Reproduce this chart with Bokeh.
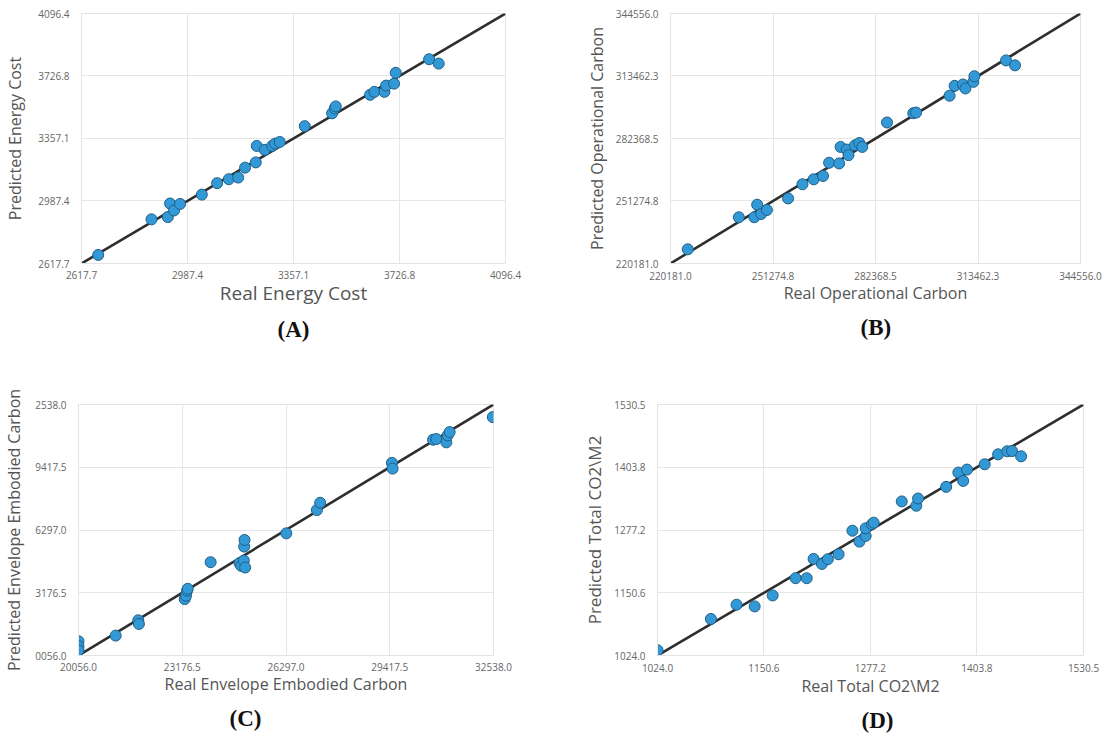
from bokeh.plotting import figure
from bokeh.models import Range1d, FixedTicker, Title, CustomJSTickFormatter
from bokeh.layouts import column, row
from bokeh.embed import file_html
from bokeh.resources import INLINE

# ---------------- data ----------------
# (A) Energy cost
a_ticks = [2617.7, 2987.4, 3357.1, 3726.8, 4096.4]
a_real = [2675.9, 2861.8, 2918.7, 2926.6, 2940.6, 2961.5, 3037.2, 3090.8, 3131.5, 3164.2,
          3188.1, 3225.4, 3228.9, 3256.8, 3282.5, 3293.0, 3309.1, 3396.3, 3491.7, 3500.9,
          3504.4, 3624.2, 3639.2, 3674.0, 3680.0, 3707.8, 3713.7, 3830.0, 3863.5]
a_pred = [2668.5, 2878.9, 2892.4, 2972.5, 2931.6, 2970.1, 3025.1, 3092.9, 3116.3, 3126.2,
          3184.7, 3215.7, 3313.2, 3289.9, 3313.2, 3326.7, 3336.6, 3430.2, 3506.1, 3535.4,
          3547.0, 3615.4, 3633.0, 3633.0, 3669.8, 3681.5, 3745.8, 3825.9, 3800.1]

# (B) Operational carbon
b_ticks = [220181.0, 251274.8, 282368.5, 313462.3, 344556.0]
b_real = [225418, 240910, 245601, 246474, 247674, 249420, 255857, 260221, 263603, 266440,
          268294, 271349, 271786, 273640, 274186, 276150, 277459, 278332, 285860, 293825,
          294697, 304843, 306371, 308880, 309644, 312044, 312371, 321972, 324700]
b_pred = [227246, 243183, 243183, 249427, 244826, 246798, 252548, 259613, 262078, 263721,
          270293, 269964, 278179, 276865, 274072, 279001, 280151, 278179, 290339, 294939,
          295268, 303646, 308575, 309233, 307261, 310547, 313340, 321226, 318761]

# (C) Envelope embodied carbon
c_ticks = [20056.0, 23176.5, 26297.0, 29417.5, 32538.0]
c_real = [20056, 20056, 20056, 21174, 21853, 21873, 23251, 23291, 23321, 23341,
          24030, 24899, 24949, 25029, 25069, 25039, 25049, 26307, 27226, 27325,
          29483, 29503, 30720, 30820, 31120, 31160, 31219, 32518]
c_pred = [20766, 20518, 20320, 21047, 21806, 21625, 22863, 23029, 23276, 23375,
          24696, 24646, 24514, 24778, 24431, 25472, 25802, 26132, 27288, 27651,
          29633, 29352, 30788, 30821, 30656, 31003, 31168, 31911]

# (D) Total CO2 per m2
d_ticks = [1024.0, 1150.6, 1277.2, 1403.8, 1530.5]
d_real = [1024.0, 1087.5, 1118.0, 1139.5, 1160.9, 1188.2, 1201.4, 1209.6, 1219.5, 1226.5,
          1239.3, 1255.8, 1264.1, 1271.5, 1271.5, 1278.9, 1281.0, 1314.4, 1331.7, 1333.8,
          1367.2, 1381.7, 1387.4, 1392.0, 1413.0, 1429.0, 1439.8, 1445.5, 1456.3]
d_pred = [1034.7, 1097.7, 1126.5, 1123.0, 1145.2, 1180.0, 1180.0, 1218.9, 1208.8, 1218.3,
          1228.3, 1275.8, 1253.8, 1265.2, 1280.6, 1288.6, 1292.0, 1334.9, 1326.2, 1340.8,
          1364.3, 1393.2, 1376.3, 1399.2, 1409.9, 1430.0, 1436.1, 1436.6, 1426.0]

FONT = "Open Sans"
FMT = "return tick.toFixed(1);"
FMT_TRUNC = "return tick.toFixed(1).slice(1);"


def panel(ticks, xs, ys, xlabel, ylabel, letter, width, height, bl, br, bt, bb,
          xts, xls, yls, xfs, yfs, loff, lstand, yfmt=FMT):
    p = figure(width=width, height=height, title=None,
               x_range=Range1d(ticks[0], ticks[-1]), y_range=Range1d(ticks[0], ticks[-1]),
               output_backend="svg", toolbar_location=None,
               min_border_left=bl, min_border_right=br, min_border_top=bt, min_border_bottom=bb)
    p.outline_line_color = "#e3e3e3"
    p.background_fill_color = "white"
    p.border_fill_color = "white"
    for ax in (p.xaxis[0], p.yaxis[0]):
        ax.ticker = FixedTicker(ticks=ticks)
        ax.major_tick_line_color = None
        ax.minor_tick_line_color = None
        ax.axis_line_color = "#e3e3e3"
        ax.major_label_text_font = FONT
        ax.major_label_text_font_size = "10px"
        ax.major_label_text_color = "#666666"
        ax.axis_label_text_font = FONT
        ax.axis_label_text_font_style = "normal"
        ax.axis_label_text_color = "#555555"
    p.xaxis[0].formatter = CustomJSTickFormatter(code=FMT)
    p.yaxis[0].formatter = CustomJSTickFormatter(code=yfmt)
    p.xaxis[0].major_label_standoff = xts
    p.yaxis[0].major_label_standoff = 6
    p.xaxis[0].axis_label = xlabel
    p.yaxis[0].axis_label = ylabel
    p.xaxis[0].axis_label_text_font_size = f"{xfs}px"
    p.yaxis[0].axis_label_text_font_size = f"{yfs}px"
    p.xaxis[0].axis_label_standoff = xls
    p.yaxis[0].axis_label_standoff = yls
    p.grid.grid_line_color = "#e6e6e6"
    p.grid.grid_line_width = 1

    p.line([ticks[0], ticks[-1]], [ticks[0], ticks[-1]], line_color="#2e2e2e", line_width=2.6)
    p.scatter(xs, ys, size=11, fill_color="#3399d6", line_color="#1f5f88", line_width=1)

    p.add_layout(Title(text=letter, align="left", offset=loff, standoff=lstand,
                       text_font="Liberation Serif", text_font_style="bold",
                       text_font_size="23px", text_color="#111111"), "below")
    return p


pA = panel(a_ticks, a_real, a_pred, "Real Energy Cost", "Predicted Energy Cost", "(A)",
           560, 380, 81, 55, 10, 117, 1, -2, 9, 19, 16, 196, 13)
pB = panel(b_ticks, b_real, b_pred, "Real Operational Carbon", "Predicted Operational Carbon", "(B)",
           544, 380, 110, 24, 13, 116, 2, -1, 5, 16, 16, 190, 13)
pC = panel(c_ticks, c_real, c_pred, "Real Envelope Embodied Carbon", "Predicted Envelope Embodied Carbon", "(C)",
           560, 360, 76, 67, 24, 85, 1, -1, 7, 16, 16, 151, 13, yfmt=FMT_TRUNC)
pD = panel(d_ticks, d_real, d_pred, "Real Total CO2\\M2", "Predicted Total CO2\\M2", "(D)",
           544, 360, 97, 21, 24, 85, 2, 0, 5, 16, 17, 204, 13)

layout = column(row(pA, pB), row(pC, pD))
open("out.html", "w").write(file_html(layout, INLINE))
